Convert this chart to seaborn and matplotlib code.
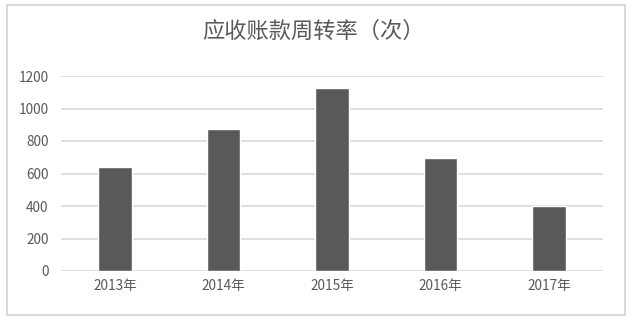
import matplotlib
matplotlib.use("Agg")
import matplotlib.pyplot as plt
import seaborn as sns
import pandas as pd
from matplotlib.patches import Rectangle

years = ["2013年", "2014年", "2015年", "2016年", "2017年"]
values = [643, 871, 1126, 698, 398]
yticks = [0, 200, 400, 600, 800, 1000, 1200]
title = "应收账款周转率（次）"

sns.set_theme(style="white")
plt.rcParams['font.family'] = ['Noto Sans CJK SC', 'DejaVu Sans']

df = pd.DataFrame({"year": years, "value": values})

fig = plt.figure(figsize=(6.3, 3.19), dpi=100)
ax = fig.add_axes([61/630, 1-271/319, (603-61)/630, (271-76)/319])

sns.barplot(data=df, x="year", y="value", color="#595959", width=0.31,
            saturation=1, ax=ax, zorder=3)

ax.set_ylim(0, 1200)
ax.set_yticks(yticks)
ax.set_xlim(-0.5, 4.5)
ax.yaxis.grid(True, color="#d9d9d9", linewidth=1.2, zorder=0)
ax.set_axisbelow(True)
for s in ax.spines.values():
    s.set_visible(False)
ax.set_xlabel("")
ax.set_ylabel("")
ax.tick_params(axis="both", length=0, labelsize=9.8, colors="#595959")
ax.tick_params(axis="y", pad=9)
ax.tick_params(axis="x", pad=6)

fig.text(313/630, 1-31/319, title, ha="center", va="center",
         fontsize=16, color="#595959")

fig.patches.append(Rectangle((7/630, 1-315/319), (625-7)/630, (315-5)/319,
                             transform=fig.transFigure, fill=False,
                             edgecolor="#d9d9d9", linewidth=1.5))

fig.savefig("out.png", dpi=100, facecolor="white")
